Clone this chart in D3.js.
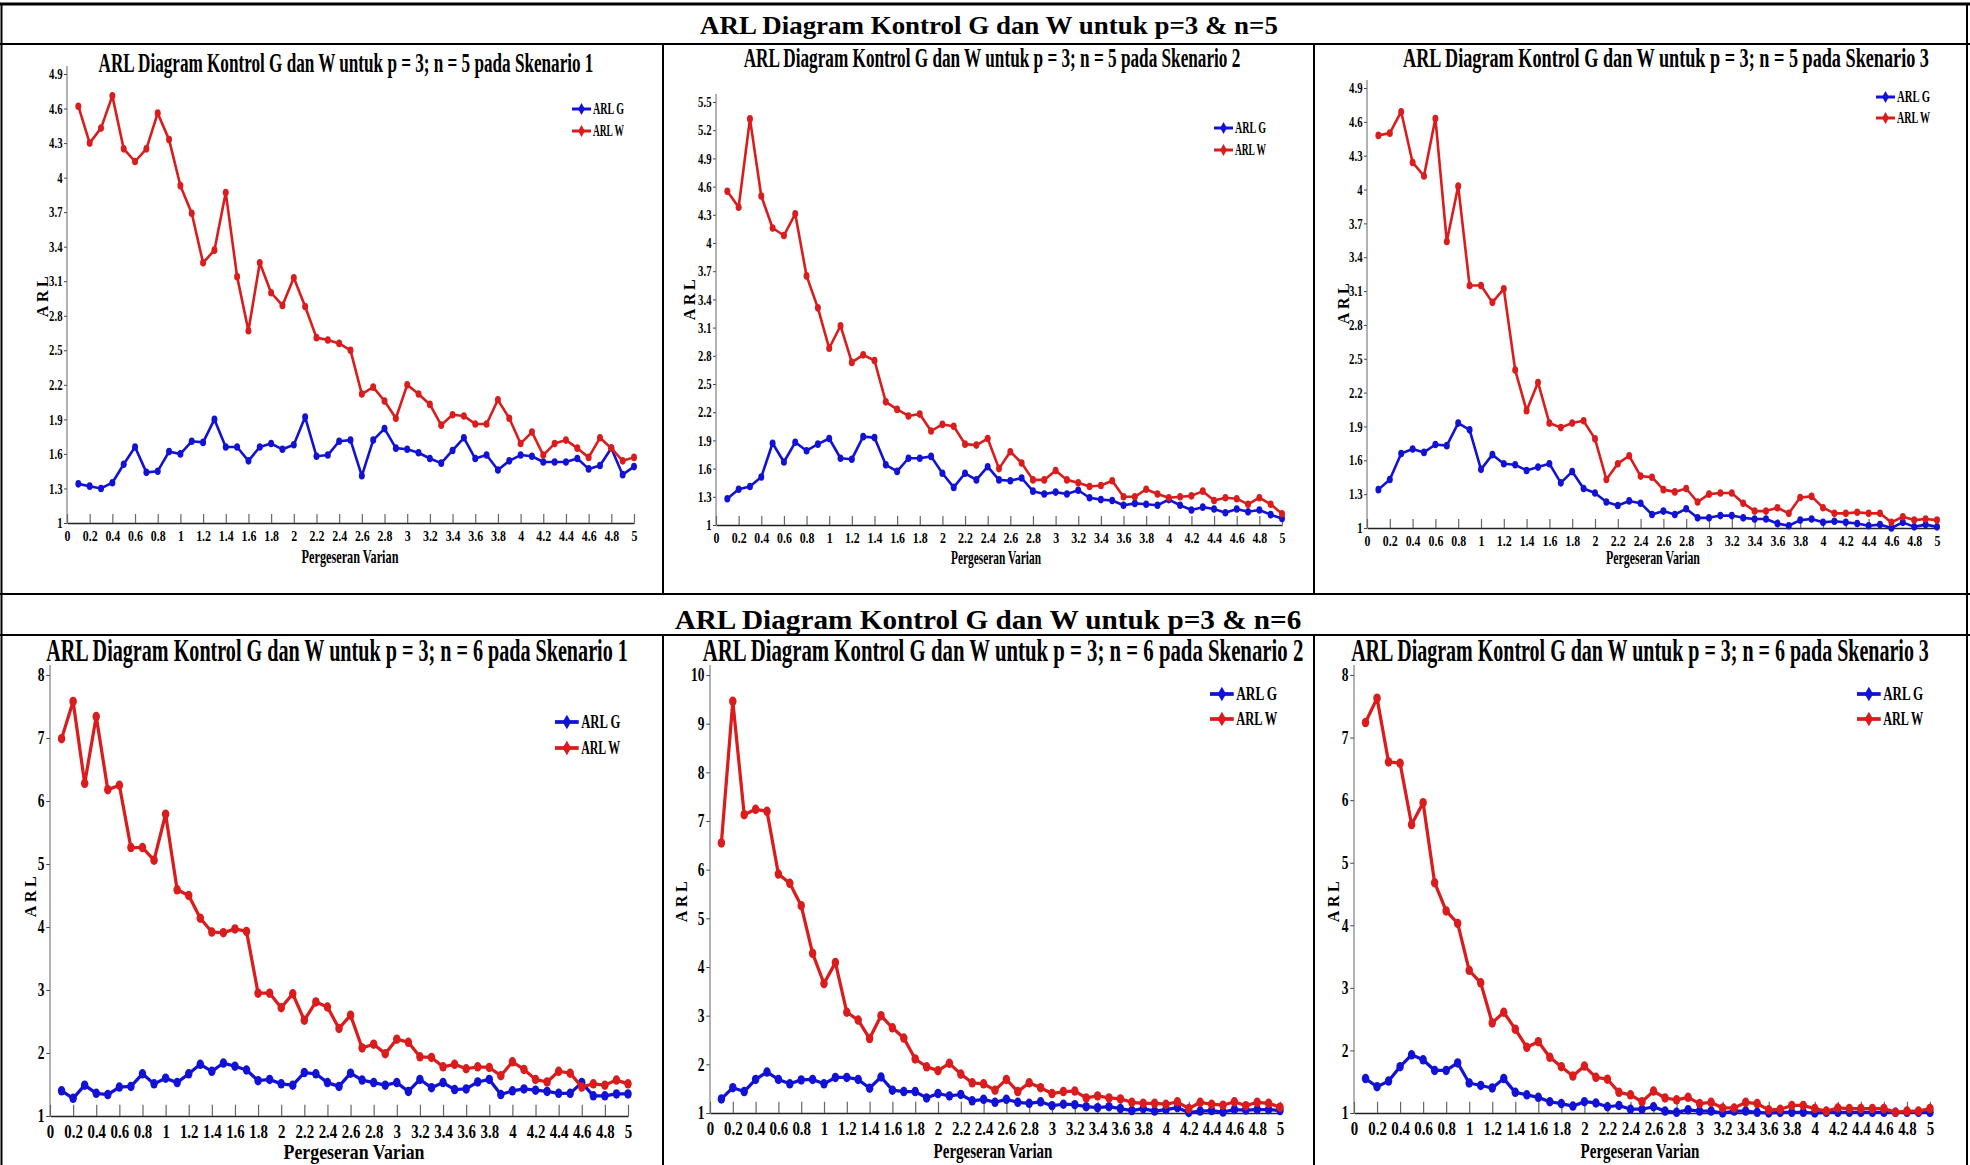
<!DOCTYPE html>
<html>
<head>
<meta charset="utf-8">
<script src="https://cdn.jsdelivr.net/npm/d3@7"></script>
<style>
  body { margin: 0; background: #fff; }
  svg { display: block; }
</style>
</head>
<body>
<div id="chart"></div>
<script>
// ARL of G and W control charts, p = 3, n = 5 / n = 6, three scenarios each

const shifts = [0.1,0.2,0.3,0.4,0.5,0.6,0.7,0.8,0.9,1.0,1.1,1.2,1.3,1.4,1.5,1.6,1.7,1.8,1.9,2.0,
  2.1,2.2,2.3,2.4,2.5,2.6,2.7,2.8,2.9,3.0,3.1,3.2,3.3,3.4,3.5,3.6,3.7,3.8,3.9,4.0,
  4.1,4.2,4.3,4.4,4.5,4.6,4.7,4.8,4.9,5.0];

const xTicks = [0,0.2,0.4,0.6,0.8,1,1.2,1.4,1.6,1.8,2,2.2,2.4,2.6,2.8,3,3.2,3.4,3.6,3.8,4,4.2,4.4,4.6,4.8,5];
const yTicks49 = [1,1.3,1.6,1.9,2.2,2.5,2.8,3.1,3.4,3.7,4,4.3,4.6,4.9];
const yTicks55 = [1,1.3,1.6,1.9,2.2,2.5,2.8,3.1,3.4,3.7,4,4.3,4.6,4.9,5.2,5.5];
const yTicks8 = [1,2,3,4,5,6,7,8];
const yTicks10 = [1,2,3,4,5,6,7,8,9,10];

const seriesNames = ["ARL G", "ARL W"];
const rowTitles = ["ARL Diagram Kontrol G dan W untuk p=3 & n=5", "ARL Diagram Kontrol G dan W untuk p=3 & n=6"];
const panelTitles = [
  "ARL Diagram Kontrol G dan W untuk p = 3; n = 5 pada Skenario 1",
  "ARL Diagram Kontrol G dan W untuk p = 3; n = 5 pada Skenario 2",
  "ARL Diagram Kontrol G dan W untuk p = 3; n = 5 pada Skenario 3",
  "ARL Diagram Kontrol G dan W untuk p = 3; n = 6 pada Skenario 1",
  "ARL Diagram Kontrol G dan W untuk p = 3; n = 6 pada Skenario 2",
  "ARL Diagram Kontrol G dan W untuk p = 3; n = 6 pada Skenario 3"
];

// n = 5
const gN5S1 = [1.34,1.32,1.30,1.35,1.51,1.66,1.44,1.45,1.62,1.60,1.71,1.70,1.90,1.66,1.66,1.54,1.66,1.69,1.64,1.68,
  1.92,1.58,1.59,1.71,1.72,1.41,1.72,1.82,1.65,1.64,1.61,1.56,1.52,1.63,1.74,1.56,1.59,1.46,1.54,1.59,
  1.58,1.53,1.53,1.53,1.56,1.47,1.50,1.65,1.42,1.49];
const wN5S1 = [4.62,4.30,4.43,4.71,4.25,4.14,4.25,4.56,4.33,3.93,3.69,3.26,3.37,3.87,3.14,2.67,3.26,3.00,2.89,3.13,
  2.88,2.61,2.59,2.56,2.50,2.12,2.18,2.06,1.91,2.20,2.12,2.03,1.85,1.94,1.93,1.86,1.86,2.07,1.91,1.69,
  1.79,1.59,1.69,1.72,1.65,1.57,1.74,1.65,1.54,1.57];
const gN5S2 = [1.28,1.38,1.41,1.51,1.87,1.67,1.88,1.79,1.86,1.92,1.71,1.70,1.94,1.93,1.64,1.57,1.71,1.71,1.73,1.55,
  1.40,1.55,1.48,1.62,1.48,1.47,1.50,1.36,1.33,1.35,1.33,1.37,1.29,1.27,1.26,1.21,1.23,1.22,1.21,1.27,
  1.21,1.16,1.19,1.17,1.13,1.17,1.14,1.16,1.11,1.07];
const wN5S2 = [4.55,4.38,5.32,4.50,4.16,4.08,4.31,3.65,3.31,2.88,3.12,2.73,2.81,2.75,2.31,2.23,2.16,2.18,2.00,2.07,
  2.05,1.86,1.85,1.92,1.60,1.78,1.66,1.48,1.48,1.58,1.48,1.45,1.41,1.42,1.47,1.30,1.30,1.38,1.33,1.29,
  1.30,1.31,1.36,1.26,1.29,1.28,1.22,1.29,1.22,1.12];
const gN5S3 = [1.34,1.43,1.66,1.70,1.67,1.74,1.73,1.93,1.87,1.52,1.65,1.57,1.56,1.51,1.54,1.57,1.40,1.50,1.35,1.31,
  1.23,1.20,1.24,1.22,1.12,1.15,1.12,1.17,1.09,1.09,1.11,1.11,1.09,1.08,1.08,1.04,1.02,1.07,1.08,1.05,
  1.06,1.05,1.04,1.02,1.03,1.00,1.05,1.01,1.03,1.01];
const wN5S3 = [4.48,4.50,4.69,4.24,4.12,4.63,3.54,4.03,3.15,3.15,3.00,3.12,2.40,2.04,2.29,1.93,1.89,1.93,1.95,1.79,
  1.43,1.57,1.64,1.46,1.45,1.34,1.32,1.35,1.23,1.30,1.31,1.31,1.22,1.15,1.15,1.18,1.13,1.27,1.28,1.18,
  1.13,1.13,1.14,1.13,1.13,1.05,1.10,1.07,1.08,1.07];

// n = 6
const gN6S1 = [1.40,1.28,1.49,1.36,1.34,1.46,1.47,1.67,1.51,1.60,1.53,1.67,1.82,1.71,1.84,1.79,1.73,1.56,1.58,1.51,
  1.49,1.69,1.67,1.53,1.47,1.68,1.57,1.53,1.49,1.53,1.39,1.58,1.45,1.53,1.42,1.43,1.54,1.58,1.34,1.40,
  1.43,1.41,1.39,1.36,1.36,1.53,1.32,1.32,1.35,1.35];
const wN6S1 = [6.99,7.58,6.28,7.34,6.18,6.25,5.26,5.26,5.06,5.79,4.59,4.50,4.14,3.92,3.91,3.97,3.93,2.95,2.95,2.72,
  2.94,2.52,2.81,2.73,2.39,2.60,2.08,2.14,1.99,2.22,2.17,1.94,1.93,1.78,1.82,1.75,1.78,1.77,1.64,1.86,
  1.74,1.58,1.54,1.71,1.68,1.46,1.51,1.49,1.57,1.51];
const gN6S2 = [1.29,1.52,1.44,1.69,1.84,1.69,1.60,1.68,1.69,1.60,1.73,1.73,1.69,1.51,1.74,1.47,1.44,1.44,1.31,1.40,
  1.35,1.38,1.25,1.28,1.22,1.28,1.22,1.20,1.23,1.15,1.18,1.17,1.13,1.11,1.13,1.09,1.05,1.09,1.04,1.07,
  1.11,1.01,1.04,1.05,1.02,1.07,1.06,1.07,1.07,1.05];
const wN6S2 = [6.55,9.46,7.13,7.24,7.20,5.91,5.72,5.26,4.28,3.66,4.09,3.07,2.91,2.53,3.00,2.75,2.54,2.11,1.95,1.87,
  2.02,1.80,1.62,1.60,1.47,1.69,1.44,1.62,1.52,1.40,1.44,1.45,1.31,1.35,1.31,1.29,1.22,1.20,1.20,1.18,
  1.23,1.09,1.22,1.18,1.16,1.23,1.15,1.22,1.20,1.12];
const gN6S3 = [1.55,1.42,1.51,1.74,1.93,1.85,1.68,1.68,1.80,1.48,1.44,1.40,1.55,1.33,1.29,1.25,1.18,1.15,1.11,1.18,
  1.16,1.10,1.12,1.06,1.06,1.10,1.03,1.01,1.05,1.03,1.03,1.00,1.03,1.03,1.01,1.00,1.01,1.01,1.01,1.00,
  1.01,1.01,1.01,1.01,1.01,1.01,1.01,1.01,1.01,1.01];
const wN6S3 = [7.24,7.63,6.61,6.59,5.61,5.96,4.68,4.23,4.03,3.28,3.08,2.44,2.61,2.34,2.05,2.14,1.89,1.74,1.59,1.75,
  1.57,1.54,1.33,1.29,1.18,1.35,1.24,1.21,1.25,1.15,1.17,1.08,1.08,1.17,1.15,1.05,1.06,1.12,1.12,1.07,
  1.03,1.08,1.07,1.07,1.07,1.07,1.01,1.03,1.03,1.07];

const panelData = [
  { g: gN5S1, w: wN5S1, yTicks: yTicks49 },
  { g: gN5S2, w: wN5S2, yTicks: yTicks55 },
  { g: gN5S3, w: wN5S3, yTicks: yTicks49 },
  { g: gN6S1, w: wN6S1, yTicks: yTicks8 },
  { g: gN6S2, w: wN6S2, yTicks: yTicks10 },
  { g: gN6S3, w: wN6S3, yTicks: yTicks8 }
];

// page layout: where each small plot sits inside the table
const layout = [
  { x0: 67,   x5: 634,  yLo: 523,  yHi: 74,  title: [346, 72, 495, 28],  arl: [42, 295],   xl: [350, 563, 97, 18],   leg: [572, 109, 131, 31, 16],  fs: 1 },
  { x0: 716,  x5: 1282, yLo: 525,  yHi: 102, title: [992, 67, 497, 28],  arl: [689, 298],  xl: [996, 564, 90, 18],   leg: [1214, 128, 150, 31, 16], fs: 1 },
  { x0: 1367, x5: 1937, yLo: 528,  yHi: 88,  title: [1666, 67, 526, 28], arl: [1343, 302], xl: [1653, 564, 94, 18],  leg: [1876, 97, 118, 33, 16],  fs: 1 },
  { x0: 50,   x5: 628,  yLo: 1116, yHi: 675, title: [337, 661, 582, 32], arl: [30, 895],   xl: [354, 1159, 141, 22], leg: [555, 722, 748, 39, 19],  fs: 1.25 },
  { x0: 710,  x5: 1280, yLo: 1113, yHi: 675, title: [1003, 661, 601, 32], arl: [681, 900], xl: [993, 1158, 119, 21], leg: [1210, 694, 719, 41, 19], fs: 1.25 },
  { x0: 1354, x5: 1930, yLo: 1113, yHi: 675, title: [1640, 661, 578, 32], arl: [1333, 900], xl: [1640, 1158, 119, 21], leg: [1857, 694, 719, 40, 19], fs: 1.25 }
];

const colors = ["#1212d6", "#da1c1c"];
const font = "'Liberation Serif', 'Times New Roman', serif";
const W = 1970, H = 1165;

const svg = d3.select("#chart").append("svg")
  .attr("width", W)
  .attr("height", H)
  .style("font-family", font);

// condensed text: place at (x, y) and squeeze it to a target width
function fitText(parent, str, x, y, width, size, anchor) {
  const t = parent.append("text")
    .attr("font-size", size)
    .attr("font-weight", "bold")
    .attr("text-anchor", anchor)
    .text(str);
  const sx = width / t.node().getComputedTextLength();
  t.attr("transform", `translate(${x},${y}) scale(${sx},1)`);
  return t;
}

// table frame
const frame = svg.append("g").attr("stroke", "#000").attr("fill", "none");
frame.append("line").attr("x1", 0).attr("x2", W).attr("y1", 4).attr("y2", 4).attr("stroke-width", 3);
[44, 594, 635].forEach(y => {
  frame.append("line").attr("x1", 0).attr("x2", W).attr("y1", y).attr("y2", y).attr("stroke-width", 2);
});
[1.5, 1967].forEach(x => {
  frame.append("line").attr("x1", x).attr("x2", x).attr("y1", 4).attr("y2", H).attr("stroke-width", 2);
});
[663, 1314].forEach(x => {
  frame.append("line").attr("x1", x).attr("x2", x).attr("y1", 44).attr("y2", 594).attr("stroke-width", 2);
  frame.append("line").attr("x1", x).attr("x2", x).attr("y1", 635).attr("y2", H).attr("stroke-width", 2);
});

// row headers
fitText(svg, rowTitles[0], 989, 34, 578, 26, "middle");
fitText(svg, rowTitles[1], 988, 629, 627, 27, "middle");

function drawPanel(d, L, title) {
  const fs = L.fs;
  const g = svg.append("g");
  const yMin = d.yTicks[0], yMax = d.yTicks[d.yTicks.length - 1];

  const x = d3.scaleLinear().domain([0, 5]).range([L.x0, L.x5]);
  const y = d3.scaleLinear().domain([yMin, yMax]).range([L.yLo, L.yHi]);

  fitText(g, title, L.title[0], L.title[1], L.title[2], L.title[3], "middle");

  const tickFont = 14.5 * fs;
  const fmt = v => String(+v.toFixed(1));

  // x axis, ticks pointing up into the plot
  const xa = g.append("g")
    .attr("transform", `translate(0,${L.yLo})`)
    .call(d3.axisBottom(x)
      .tickValues(xTicks)
      .tickSizeInner(-9 * fs)
      .tickSizeOuter(0)
      .tickPadding(18 * fs - 0.71 * tickFont)
      .tickFormat(fmt));
  xa.select(".domain").attr("stroke", "#222").attr("stroke-width", 1.5);
  xa.selectAll(".tick line").attr("stroke", "#666").attr("stroke-width", 1.2);
  xa.selectAll(".tick text")
    .attr("fill", "#000")
    .attr("font-family", font)
    .attr("font-weight", "bold")
    .attr("font-size", tickFont)
    .attr("transform", "scale(0.82,1)");

  // y axis
  const ya = g.append("g")
    .attr("transform", `translate(${L.x0},0)`)
    .call(d3.axisLeft(y)
      .tickValues(d.yTicks)
      .tickSize(3 * fs)
      .tickFormat(fmt));
  ya.select(".domain").remove();
  ya.append("line")
    .attr("x1", 0).attr("x2", 0)
    .attr("y1", L.yLo).attr("y2", L.yHi - 8 * fs)
    .attr("stroke", "#666").attr("stroke-width", 1);
  ya.selectAll(".tick line").attr("stroke", "#444");
  ya.selectAll(".tick text")
    .attr("fill", "#000")
    .attr("font-family", font)
    .attr("font-weight", "bold")
    .attr("font-size", tickFont)
    .attr("x", -4.5 * fs / 0.74)
    .attr("transform", "scale(0.74,1)");

  // axis labels
  g.append("text")
    .attr("transform", `translate(${L.arl[0]},${L.arl[1]}) rotate(-90)`)
    .attr("text-anchor", "middle")
    .attr("dy", "0.35em")
    .attr("font-size", 16)
    .attr("font-weight", "bold")
    .attr("letter-spacing", 3.5)
    .text("ARL");

  fitText(g, "Pergeseran Varian", L.xl[0], L.xl[1], L.xl[2], L.xl[3], "middle");

  // series: G first, W drawn on top
  const line = d3.line().x((v, i) => x(shifts[i])).y(v => y(v));
  [d.g, d.w].forEach((vals, k) => {
    g.append("path")
      .datum(vals)
      .attr("fill", "none")
      .attr("stroke", colors[k])
      .attr("stroke-width", 2.6 * fs)
      .attr("stroke-linejoin", "round")
      .attr("d", line);
    g.selectAll(null)
      .data(vals)
      .enter()
      .append("ellipse")
      .attr("cx", (v, i) => x(shifts[i]))
      .attr("cy", v => y(v))
      .attr("rx", 3 * fs)
      .attr("ry", 3.8 * fs)
      .attr("fill", colors[k]);
  });

  // legend
  seriesNames.forEach((name, k) => {
    const ly = L.leg[1 + k];
    const lx = L.leg[0];
    g.append("line")
      .attr("x1", lx).attr("x2", lx + 19 * fs)
      .attr("y1", ly).attr("y2", ly)
      .attr("stroke", colors[k]).attr("stroke-width", 3 * fs);
    g.append("path")
      .attr("d", d3.symbol(d3.symbolDiamond, 40 * fs * fs)())
      .attr("transform", `translate(${lx + 9.5 * fs},${ly})`)
      .attr("fill", colors[k]);
    fitText(g, name, lx + 21 * fs, ly + 0.34 * L.leg[4], L.leg[3], L.leg[4], "start");
  });
}

panelData.forEach((d, i) => drawPanel(d, layout[i], panelTitles[i]));
</script>
</body>
</html>
